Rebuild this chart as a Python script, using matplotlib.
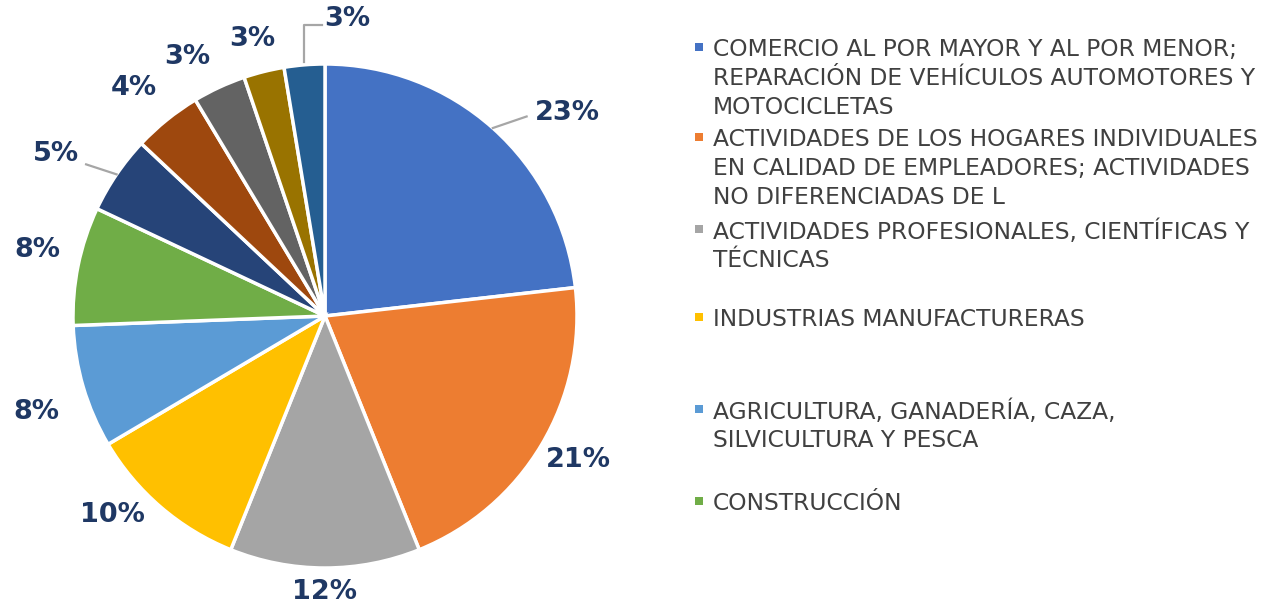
import numpy as np
import matplotlib
matplotlib.use("Agg")
import matplotlib.pyplot as plt

# ---- data ----
categories = [
    "COMERCIO AL POR MAYOR Y AL POR MENOR;\nREPARACIÓN DE VEHÍCULOS AUTOMOTORES Y\nMOTOCICLETAS",
    "ACTIVIDADES DE LOS HOGARES INDIVIDUALES\nEN CALIDAD DE EMPLEADORES; ACTIVIDADES\nNO DIFERENCIADAS DE L",
    "ACTIVIDADES PROFESIONALES, CIENTÍFICAS Y\nTÉCNICAS",
    "INDUSTRIAS MANUFACTURERAS",
    "AGRICULTURA, GANADERÍA, CAZA,\nSILVICULTURA Y PESCA",
    "CONSTRUCCIÓN",
    "OTRO 7", "OTRO 8", "OTRO 9", "OTRO 10", "OTRO 11",
]
values = [23.2, 20.7, 12.2, 10.4, 7.9, 7.6, 5.0, 4.4, 3.4, 2.6, 2.6]
legend_count = 6  # the reference legend shows only the first six entries

# ---- style ----
colors = ["#4472C4", "#ED7D31", "#A5A5A5", "#FFC000", "#5B9BD5", "#70AD47",
          "#264478", "#9E480E", "#636363", "#997300", "#255E91"]
label_color = "#1F3864"
legend_text_color = "#404040"
leader_color = "#A6A6A6"

W, H = 1273, 608
fig = plt.figure(figsize=(W / 100, H / 100), dpi=100)
cx, cy, R = 325, 316, 252
ax = fig.add_axes([(cx - R) / W, (H - cy - R) / H, 2 * R / W, 2 * R / H])

wedges, _ = ax.pie(values, colors=colors, startangle=90, counterclock=False,
                   radius=1.0,
                   wedgeprops=dict(edgecolor="white", linewidth=2.5))
ax.set_xlim(-1, 1)
ax.set_ylim(-1, 1)
ax.set_aspect("equal")
ax.axis("off")

# label placement: radial distance per label, angle offsets from wedge middle
label_r = [1.254, 1.155, 1.095, 1.155, 1.206, 1.17, 1.246, 1.18, 1.163, 1.135, 1.18]
label_ang_shift = [-8.2, 1.2, 0.0, -6.2, 2.1, -1.5, 3.2, 1.1, 3.1, 0.6, -9.0]
leaders = {0, 6, 10}

for i, (w, v) in enumerate(zip(wedges, values)):
    mid = 0.5 * (w.theta1 + w.theta2)
    ang = mid + label_ang_shift[i]
    r = label_r[i]
    x, y = r * np.cos(np.radians(ang)), r * np.sin(np.radians(ang))
    ax.text(x, y, f"{round(v):d}%", ha="center", va="center",
            fontsize=19.5, fontweight="bold", color=label_color,
            family="DejaVu Sans", clip_on=False)
    if i in leaders:
        ex, ey = np.cos(np.radians(mid)), np.sin(np.radians(mid))
        if i == 10:
            ax.plot([ex, ex, x - 0.10], [ey + 0.01, y - 0.02, y - 0.02],
                    color=leader_color, lw=1.6, clip_on=False)
        elif i == 0:
            ax.plot([ex, x - 0.16], [ey, y - 0.015],
                    color=leader_color, lw=1.6, clip_on=False)
        else:
            ax.plot([ex, x + 0.12], [ey, y - 0.04],
                    color=leader_color, lw=1.6, clip_on=False)

# ---- legend (Excel-like, evenly spaced entries) ----
marker_x = 699
text_x = 713
entry_y = [47, 137, 229, 317, 409, 501]
line_gap = 29
for i in range(legend_count):
    yy = entry_y[i]
    fig.patches.append(plt.Rectangle(((marker_x - 4) / W, 1 - (yy + 4) / H), 8 / W, 8 / H,
                                     transform=fig.transFigure, facecolor=colors[i],
                                     edgecolor="none"))
    for j, line in enumerate(categories[i].split("\n")):
        fig.text(text_x / W, 1 - (yy + j * line_gap) / H, line,
                 ha="left", va="center_baseline", fontsize=16.8,
                 color=legend_text_color, family="DejaVu Sans")

fig.savefig("out.png", dpi=100)
